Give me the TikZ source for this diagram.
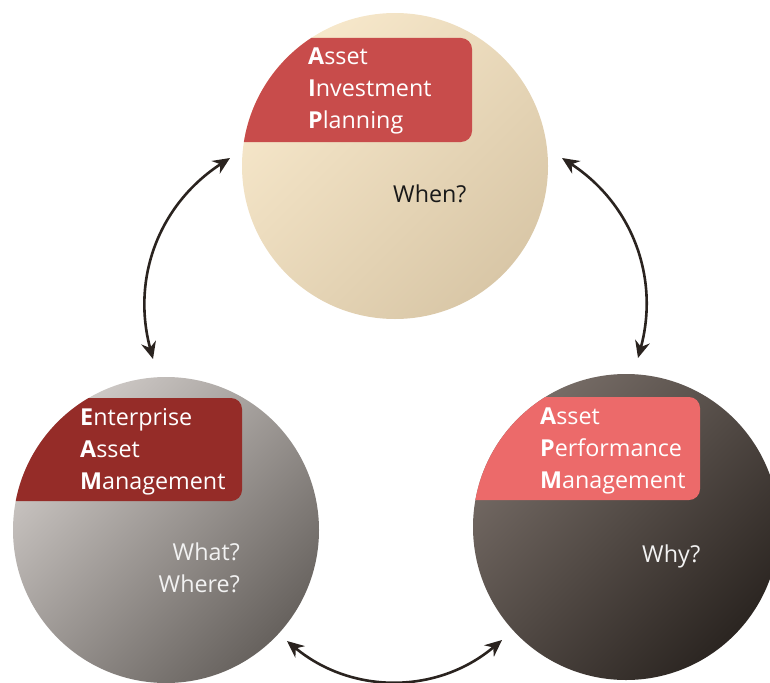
\documentclass[tikz,border=0pt]{standalone}
\usepackage{fontspec}
\setmainfont{Open Sans}
\usetikzlibrary{arrows.meta}

\definecolor{aipLight}{HTML}{F7E8CB}
\definecolor{aipDark}{HTML}{D9C7A7}
\definecolor{aipRed}{HTML}{C84C4B}
\definecolor{eamLight}{HTML}{CFCAC7}
\definecolor{eamDark}{HTML}{67625E}
\definecolor{eamRed}{HTML}{952C28}
\definecolor{apmLight}{HTML}{776D67}
\definecolor{apmDark}{HTML}{2B2521}
\definecolor{apmRed}{HTML}{EC6A6A}
\definecolor{arrowBrown}{HTML}{2A231F}

\tikzset{
  disc/.style={circle, minimum size=306pt, inner sep=0pt},
  title/.style={anchor=north west, align=left, inner sep=0pt, text=white,
    font=\fontsize{23.3}{32}\selectfont},
  ask/.style={inner sep=0pt, font=\fontsize{23.3}{32}\selectfont},
  twoway/.style={{Stealth[length=17pt,width=15pt]}-{Stealth[length=17pt,width=15pt]},
    line width=2.6pt, draw=arrowBrown},
}

\begin{document}
\begin{tikzpicture}[x=1pt,y=-1pt]
\useasboundingbox (0,0) rectangle (770,682);

% the three discs
\node[disc, top color=aipLight, bottom color=aipDark, shading angle=45] (aip) at (395,166) {}; % planning
\node[disc, top color=eamLight, bottom color=eamDark, shading angle=45] (eam) at (166,530) {}; % enterprise
\node[disc, top color=apmLight, bottom color=apmDark, shading angle=45] (apm) at (626,527) {}; % performance

% title bands, cut to their disc
\begin{scope}
  \clip (aip.center) circle (153pt);
  \fill[aipRed, rounded corners=11pt] (220,38) rectangle (472,142);
\end{scope}
\begin{scope}
  \clip (eam.center) circle (153pt);
  \fill[eamRed, rounded corners=11pt] (0,398) rectangle (242,501);
\end{scope}
\begin{scope}
  \clip (apm.center) circle (153pt);
  \fill[apmRed, rounded corners=11pt] (460,397) rectangle (700,500);
\end{scope}

\node[title] (aipT) at (308,48) {\textbf{A}sset\\\textbf{I}nvestment\\\textbf{P}lanning};
\node[title] (eamT) at (80,408) {\textbf{E}nterprise\\\textbf{A}sset\\\textbf{M}anagement};
\node[title] (apmT) at (540,408) {\textbf{A}sset\\\textbf{P}erformance\\\textbf{M}anagement};

\node[ask, anchor=base west, text=black!90] (aipQ) at (393,202) {When?};
\node[ask, anchor=north east, align=right, text=white!95!black] (eamQ) at (240,543) {What?\\Where?};
\node[ask, anchor=base west, text=white!95!black] (apmQ) at (642,562) {Why?};

% links between the discs
\coordinate (aipW) at (230,158);
\coordinate (aipE) at (562,158);
\coordinate (eamN) at (153,359);
\coordinate (eamE) at (287,641);
\coordinate (apmN) at (638,358);
\coordinate (apmW) at (502,640);
\draw[twoway] (eamN) to[bend left=36] (aipW);
\draw[twoway] (aipE) to[bend left=36] (apmN);
\draw[twoway] (eamE) to[bend right=40] (apmW);
\end{tikzpicture}
\end{document}
